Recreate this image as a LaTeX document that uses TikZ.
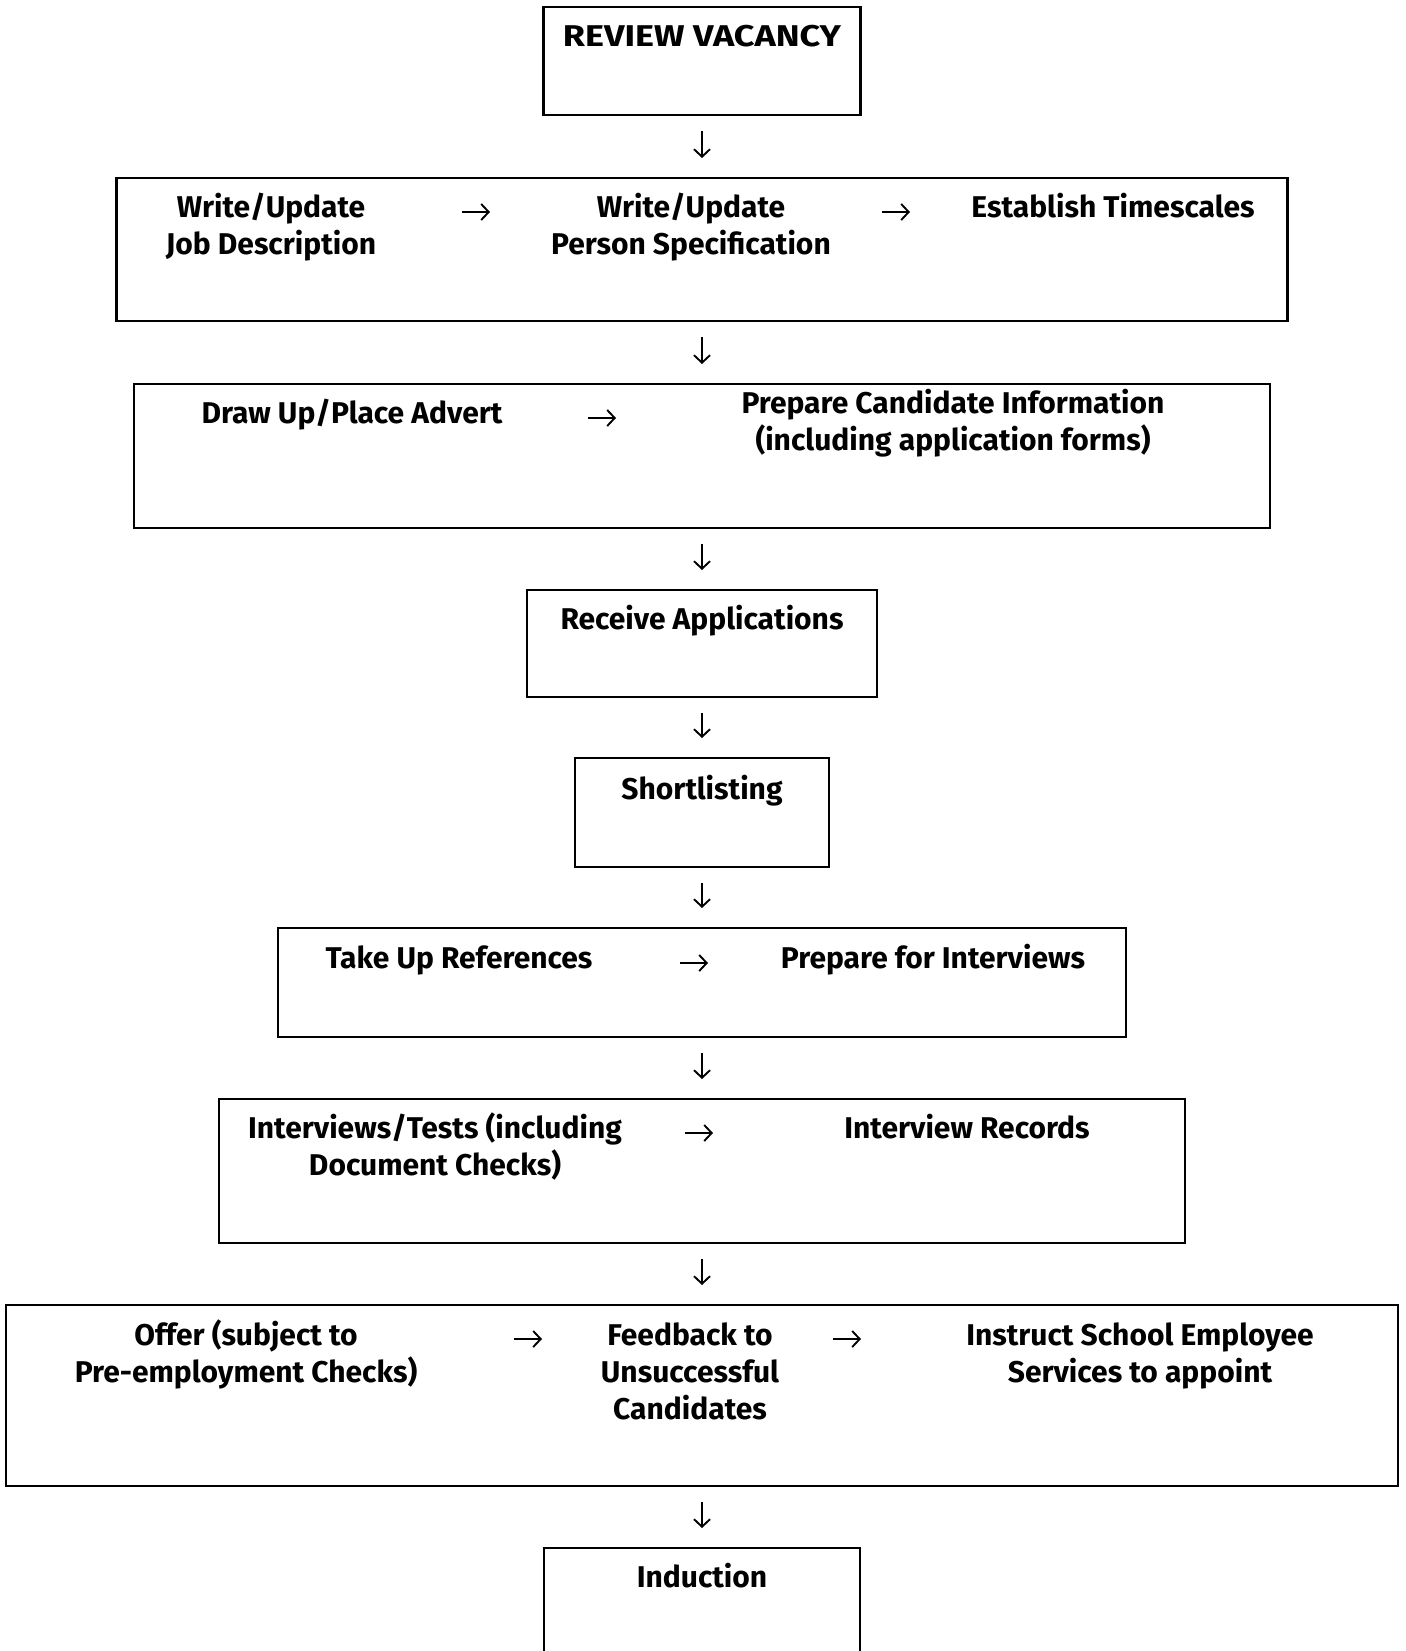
\documentclass[tikz,border=0pt]{standalone}
\usepackage{fontspec}
\setmainfont{Fira Sans}
\usetikzlibrary{arrows.meta}
\begin{document}
\begin{tikzpicture}[x=1pt,y=-1pt,
  box/.style={draw, line width=2.6pt, inner sep=0pt, outer sep=0pt},
  txt/.style={anchor=base, align=center, inner sep=0pt, font=\fontsize{30pt}{37pt}\selectfont\bfseries},
  arr/.style={line width=1.9pt, -{Straight Barb[length=7.5pt,width=16pt,line width=1.9pt]}},
  down/.style={arr, shorten <=16pt, shorten >=20pt}]
\useasboundingbox (0,0) rectangle (1405,1651);
\clip (0,0) rectangle (1405,1651);
% boxes
\node[box, minimum width=317pt, minimum height=108pt] (b1) at (702,61) {};
\node[box, minimum width=1171pt, minimum height=143pt] (b2) at (702,249.5) {};
\node[box, minimum width=1136pt, minimum height=144pt] (b3) at (702,456) {};
\node[box, minimum width=350pt, minimum height=107pt] (b4) at (702,643.5) {};
\node[box, minimum width=254pt, minimum height=109pt] (b5) at (702,812.5) {};
\node[box, minimum width=848pt, minimum height=109pt] (b6) at (702,982.5) {};
\node[box, minimum width=966pt, minimum height=144pt] (b7) at (702,1171) {};
\node[box, minimum width=1392pt, minimum height=181pt] (b8) at (702,1395.5) {};
\node[box, minimum width=316pt, minimum height=200pt] (b9) at (702,1648) {};
% texts (multi-line nodes anchored at the baseline of their last line)
\node[txt] (t1) at (702,47) {\scalebox{1.2}[1]{REVIEW VACANCY}};
\node[txt] (t2a) at (271,254) {Write/Update\\Job Description};
\node[txt] (t2b) at (691,254) {Write/Update\\Person Specification};
\node[txt] (t2c) at (1113,217) {Establish Timescales};
\node[txt] (t3a) at (352,423) {Draw Up/Place Advert};
\node[txt] (t3b) at (953,450) {Prepare Candidate Information\\(including application forms)};
\node[txt] (t4) at (702,629) {Receive Applications};
\node[txt] (t5) at (702,799) {Shortlisting};
\node[txt] (t6a) at (459,968) {Take Up References};
\node[txt] (t6b) at (933,968) {Prepare for Interviews};
\node[txt] (t7a) at (435,1175) {Interviews/Tests (including\\Document Checks)};
\node[txt] (t7b) at (967,1138) {Interview Records};
\node[txt] (t8a) at (246,1382) {Offer (subject to\\Pre-employment Checks)};
\node[txt] (t8b) at (690,1419) {Feedback to\\Unsuccessful\\Candidates};
\node[txt] (t8c) at (1140,1382) {Instruct School Employee\\Services to appoint};
\node[txt] (t9) at (702,1587) {Induction};
% horizontal arrow ends
\coordinate (h2as) at (462,212); \coordinate (h2ae) at (490,212);
\coordinate (h2bs) at (882,212); \coordinate (h2be) at (910,212);
\coordinate (h3s) at (588,418); \coordinate (h3e) at (616,418);
\coordinate (h6s) at (680,963); \coordinate (h6e) at (708,963);
\coordinate (h7s) at (685,1133); \coordinate (h7e) at (713,1133);
\coordinate (h8as) at (514,1339); \coordinate (h8ae) at (542,1339);
\coordinate (h8bs) at (833,1339); \coordinate (h8be) at (861,1339);
\draw[arr] (h2as) -- (h2ae);
\draw[arr] (h2bs) -- (h2be);
\draw[arr] (h3s) -- (h3e);
\draw[arr] (h6s) -- (h6e);
\draw[arr] (h7s) -- (h7e);
\draw[arr] (h8as) -- (h8ae);
\draw[arr] (h8bs) -- (h8be);
% vertical arrows
\draw[down] (b1.south) -- (b2.north);
\draw[down] (b2.south) -- (b3.north);
\draw[down] (b3.south) -- (b4.north);
\draw[down] (b4.south) -- (b5.north);
\draw[down] (b5.south) -- (b6.north);
\draw[down] (b6.south) -- (b7.north);
\draw[down] (b7.south) -- (b8.north);
\draw[down] (b8.south) -- (b9.north);
\end{tikzpicture}
\end{document}
